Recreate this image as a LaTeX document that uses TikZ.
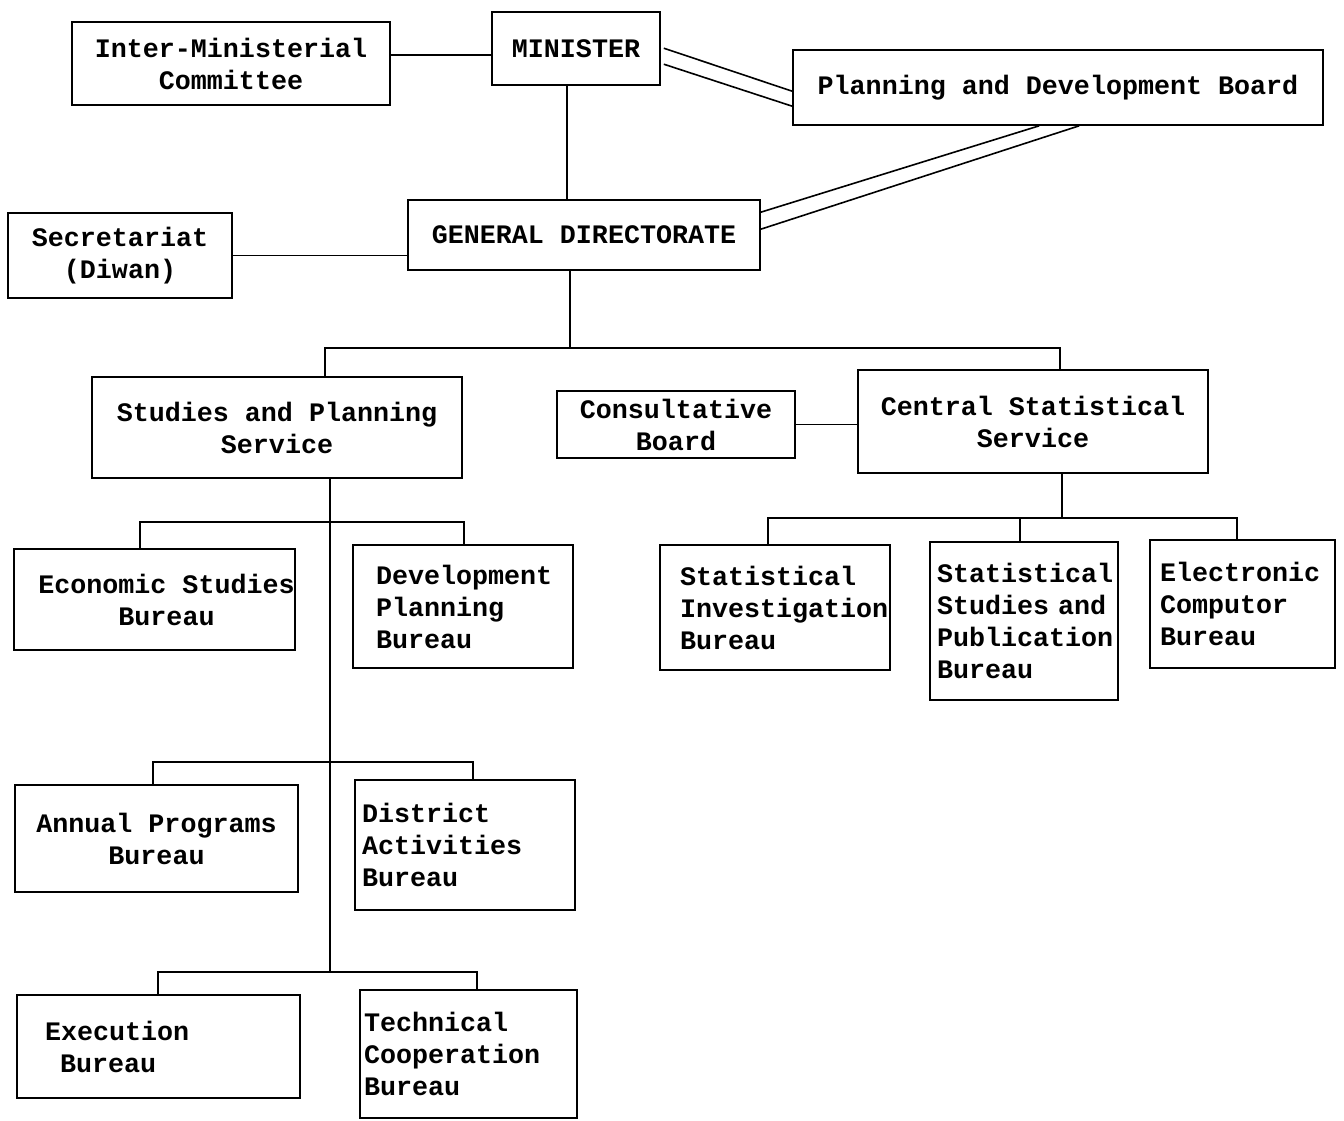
\documentclass[tikz,border=0pt]{standalone}
\usepackage{fontspec}
\setmainfont{Liberation Mono}
\usetikzlibrary{calc}
\begin{document}
\begin{tikzpicture}[x=1pt,y=-1pt,
  box/.style={draw, line width=1.6pt, rectangle, inner sep=0pt, align=center,
    font=\fontsize{26.7}{32}\selectfont\bfseries},
  lbox/.style={draw, line width=1.6pt, rectangle, inner ysep=0pt, align=left,
    font=\fontsize{26.7}{32}\selectfont\bfseries},
  conn/.style={line width=1.6pt},
  dbl/.style={line width=1.6pt}]
\useasboundingbox (0,0) rectangle (1344,1120);
\fill[white] (0,0) rectangle (1344,1120);

% top level
\node[box, minimum width=318pt, minimum height=83pt] (imc) at (231,63.5) {Inter-Ministerial\\Committee};
\node[box, minimum width=168pt, minimum height=73pt] (min) at (576,48.5) {MINISTER};
\node[box, minimum width=530pt, minimum height=75pt] (pdb) at (1058,87.5) {Planning and Development Board};
\node[box, minimum width=224pt, minimum height=85pt] (sec) at (120,255.5) {Secretariat\\(Diwan)};
\node[box, minimum width=352pt, minimum height=70pt] (gd) at (584,235) {GENERAL DIRECTORATE};

% services
\node[box, minimum width=370pt, minimum height=101pt] (sps) at (277,427.5) {Studies and Planning\\Service};
\node[box, minimum width=238pt, minimum height=67pt] (cb) at (676,424.5) {Consultative\\Board};
\node[box, minimum width=350pt, minimum height=103pt] (css) at (1033,421.5) {Central Statistical\\Service};

% bureaus of studies and planning
\node[box, minimum width=281pt, minimum height=101pt] (esb) at (154.5,599.5) {\hspace*{24pt}Economic Studies\\\hspace*{24pt}Bureau};
\node[lbox, inner xsep=23pt, text width=174pt, minimum height=123pt] (dpb) at (463,606.5) {Development\\Planning\\Bureau};
\node[box, minimum width=283pt, minimum height=107pt] (apb) at (156.5,838.5) {Annual Programs\\Bureau};
\node[lbox, inner xsep=7pt, text width=206pt, minimum height=130pt] (dab) at (465,845) {District\\Activities\\Bureau};
\node[lbox, inner xsep=28pt, text width=227pt, minimum height=103pt] (exb) at (158.5,1046.5) {Execution\\\hspace*{15pt}Bureau};
\node[lbox, inner xsep=4pt, text width=209pt, minimum height=128pt] (tcb) at (468.5,1054) {Technical\\Cooperation\\Bureau};

% bureaus of central statistics
\node[lbox, inner xsep=20pt, text width=190pt, minimum height=125pt] (sib) at (775,607.5) {Statistical\\Investigation\\Bureau};
\node[lbox, inner xsep=7pt, text width=174pt, minimum height=158pt] (ssp) at (1024,621) {Statistical\\Studies and\\Publication\\Bureau};
\node[lbox, inner xsep=10pt, text width=165pt, minimum height=128pt] (ecb) at (1242.5,604) {Electronic\\Computor\\Bureau};

% coordinates for connectors
\coordinate (y55) at (0,55);
\coordinate (tm) at (567,0);
\coordinate (b1) at (570,348);
\coordinate (s1) at (325,348);
\coordinate (c1) at (1060,348);
\coordinate (t0) at (330,0);
\coordinate (b2l) at (140,522);
\coordinate (b2r) at (464,522);
\coordinate (b3l) at (153,762);
\coordinate (b3r) at (473,762);
\coordinate (b4l) at (158,972);
\coordinate (b4r) at (477,972);
\coordinate (cs) at (1062,518);
\coordinate (cl) at (768,518);
\coordinate (cm) at (1020,518);
\coordinate (cr) at (1237,518);

% connectors
\draw[conn] (imc.east |- y55) -- (min.west |- y55);
\draw[dbl] ($(min.north east)+(3,37)$) -- ($(pdb.north west)+(0,42)$);
\draw[dbl] ($(min.north east)+(3,53)$) -- ($(pdb.north west)+(0,57)$);
\draw[dbl] ($(pdb.south west)+(247,0)$) -- ($(gd.north east)+(0,13)$);
\draw[dbl] ($(pdb.south west)+(287,0)$) -- ($(gd.north east)+(0,30)$);
\draw[conn] (min.south -| tm) -- (gd.north -| tm);
\draw[conn] (sec.east) -- (sec.east -| gd.west);
\draw[conn] (gd.south -| b1) -- (b1);
\draw[conn] (sps.north -| s1) -- (s1) -- (c1) -- (css.north -| c1);
\draw[conn] (cb.east) -- (cb.east -| css.west);

\draw[conn] (sps.south -| t0) -- (b4l -| t0);
\draw[conn] (esb.north -| b2l) -- (b2l) -- (b2r) -- (dpb.north -| b2r);
\draw[conn] (apb.north -| b3l) -- (b3l) -- (b3r) -- (dab.north -| b3r);
\draw[conn] (exb.north -| b4l) -- (b4l) -- (b4r) -- (tcb.north -| b4r);

\draw[conn] (css.south -| cs) -- (cs);
\draw[conn] (sib.north -| cl) -- (cl) -- (cr) -- (ecb.north -| cr);
\draw[conn] (cm) -- (ssp.north -| cm);
\end{tikzpicture}
\end{document}
